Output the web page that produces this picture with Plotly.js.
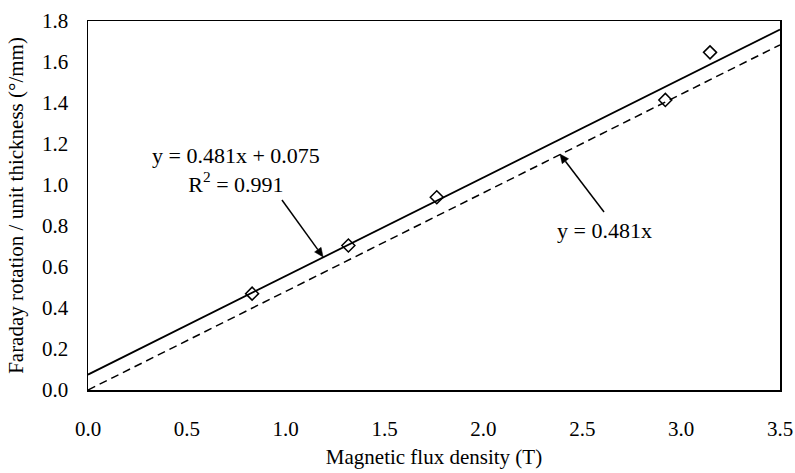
<!DOCTYPE html>
<html><head><meta charset="utf-8">
<script src="https://cdn.plot.ly/plotly-3.0.1.min.js"></script>
<style>html,body{margin:0;padding:0;background:#fff}#c{width:795px;height:473px}</style>
</head><body><div id="c"></div>
<script>
const fluxDensity = [0.83, 1.317, 1.764, 2.92, 3.146];
const rotation = [0.47, 0.705, 0.94, 1.415, 1.647];
const fitX = [0, 3.5];
const slope = 0.481;
const intercept = 0.075;
const xTicks = [0, 0.5, 1.0, 1.5, 2.0, 2.5, 3.0, 3.5];
const yTicks = [0, 0.2, 0.4, 0.6, 0.8, 1.0, 1.2, 1.4, 1.6, 1.8];

const fitY = fitX.map(x => slope * x + intercept);
const originY = fitX.map(x => slope * x);
const fam = 'Liberation Serif, Times New Roman, serif';
const font = {family: fam, size: 21, color: '#000'};
const annFont = {family: fam, size: 22, color: '#000'};

const W = 795, H = 473, M = {l: 88, r: 15, t: 21, b: 83};
const xRange = [0, 3.5], yRange = [0, 1.8];
const pxX = (W - M.l - M.r) / (xRange[1] - xRange[0]);
const pxY = (H - M.t - M.b) / (yRange[1] - yRange[0]);

function arrow(x0, y0, x1, y1) {
  const dx = (x1 - x0) * pxX, dy = -(y1 - y0) * pxY;
  const len = Math.hypot(dx, dy), ux = dx / len, uy = dy / len;
  const L = 9, Hw = 4;
  const bx = -L * ux, by = -L * uy;
  const p1 = [x1 + (bx - Hw * uy) / pxX, y1 - (by + Hw * ux) / pxY];
  const p2 = [x1 + (bx + Hw * uy) / pxX, y1 - (by - Hw * ux) / pxY];
  const bmx = x1 + bx / pxX, bmy = y1 - by / pxY;
  return [
    {type: 'line', x0: x0, y0: y0, x1: bmx, y1: bmy, line: {color: '#000', width: 1.5}},
    {type: 'path', path: `M${x1},${y1} L${p1[0]},${p1[1]} L${p2[0]},${p2[1]} Z`,
     fillcolor: '#000', line: {color: '#000', width: 0.5}}
  ];
}

const traces = [
  {x: fitX, y: fitY, mode: 'lines', line: {color: '#000', width: 1.8}, hoverinfo: 'skip'},
  {x: fitX, y: originY, mode: 'lines', line: {color: '#000', width: 1.5, dash: '8px,5px'}, hoverinfo: 'skip'},
  {x: fluxDensity, y: rotation, mode: 'markers',
   marker: {symbol: 'diamond-open', size: 10, color: '#000', line: {width: 1.5, color: '#000'}}}
];

const layout = {
  width: W, height: H,
  margin: M,
  showlegend: false,
  paper_bgcolor: '#fff', plot_bgcolor: '#fff',
  font: font,
  xaxis: {
    range: xRange, tickvals: xTicks, ticktext: xTicks.map(v => v.toFixed(1)),
    showgrid: false, zeroline: false, showline: true, mirror: true, linecolor: '#000', linewidth: 1.5,
    ticks: '', ticklabelstandoff: 19, tickfont: font,
    title: {text: 'Magnetic flux density (T)', font: font, standoff: 9}
  },
  yaxis: {
    range: yRange, tickvals: yTicks, ticktext: yTicks.map(v => v.toFixed(1)),
    showgrid: false, zeroline: false, showline: true, mirror: true, linecolor: '#000', linewidth: 1.5,
    ticks: '', ticklabelstandoff: 14, tickfont: font,
    title: {text: 'Faraday rotation / unit thickness (°/mm)', font: font, standoff: 12}
  },
  annotations: [
    {xref: 'paper', yref: 'paper', x: (236 - 88) / 692, y: (390 - 170) / 369,
     text: 'y = 0.481x + 0.075<br>R<sup>2</sup> = 0.991', align: 'center',
     showarrow: false, font: annFont, xanchor: 'center', yanchor: 'middle'},
    {xref: 'paper', yref: 'paper', x: (604 - 88) / 692, y: (390 - 230) / 369, text: 'y = 0.481x',
     showarrow: false, font: annFont, xanchor: 'center', yanchor: 'middle'}
  ],
  shapes: [].concat(arrow(0.981, 0.927, 1.189, 0.649), arrow(2.610, 0.868, 2.387, 1.151))
};
Plotly.newPlot('c', traces, layout, {displayModeBar: false, staticPlot: true});
</script></body></html>
